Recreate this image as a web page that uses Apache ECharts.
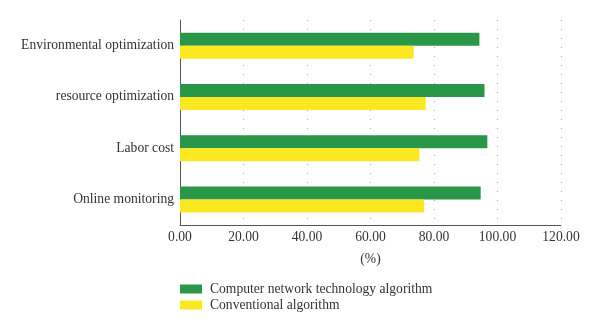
<!DOCTYPE html>
<html><head><meta charset="utf-8">
<script src="https://cdn.jsdelivr.net/npm/echarts@6/dist/echarts.min.js"></script>
<style>html,body{margin:0;padding:0;background:#fff}#c{width:600px;height:332px}</style>
</head><body><div id="c"></div>
<script>
const categories = ['Environmental optimization','resource optimization','Labor cost','Online monitoring'];
const seriesNames = ['Computer network technology algorithm','Conventional algorithm'];
const networkValues = [94.3, 95.9, 96.8, 94.7];
const conventionalValues = [73.6, 77.4, 75.4, 76.9];
const xTicks = [0, 20, 40, 60, 80, 100, 120];

const font = 'Liberation Serif';
const chart = echarts.init(document.getElementById('c'));
chart.setOption({
  animation: false,
  grid: {left: 180, right: 39, top: 20, bottom: 107},
  legend: {
    orient: 'vertical', left: 175, top: 277, itemWidth: 22, itemHeight: 9, itemGap: 2,
    icon: 'rect',
    data: seriesNames,
    textStyle: {fontFamily: font, fontSize: 13.6, color: '#333', padding: [0, 0, 0, 3]}
  },
  xAxis: {
    type: 'value', min: xTicks[0], max: xTicks[xTicks.length-1], interval: 20,
    name: '(%)', nameLocation: 'middle', nameGap: 27,
    nameTextStyle: {fontFamily: font, fontSize: 13.6, color: '#333'},
    axisLine: {show: true, lineStyle: {color: '#555', width: 1}},
    axisTick: {show: false},
    axisLabel: {fontFamily: font, fontSize: 13.6, color: '#333', margin: 5, formatter: v => v.toFixed(2)},
    splitLine: {show: true, lineStyle: {color: '#aaa', type: [1, 8], width: 1}}
  },
  yAxis: {
    type: 'category', data: categories, inverse: true,
    axisLine: {show: true, lineStyle: {color: '#555', width: 1}},
    axisTick: {show: false},
    axisLabel: {fontFamily: font, fontSize: 13.6, color: '#333', margin: 6}
  },
  series: [
    {name: seriesNames[0], type: 'bar', data: networkValues, barWidth: 13, barGap: '0%',
     itemStyle: {color: '#2a9647'}},
    {name: seriesNames[1], type: 'bar', data: conventionalValues, barWidth: 13, barGap: '0%',
     itemStyle: {color: '#fbe820'}}
  ]
});
</script></body></html>
